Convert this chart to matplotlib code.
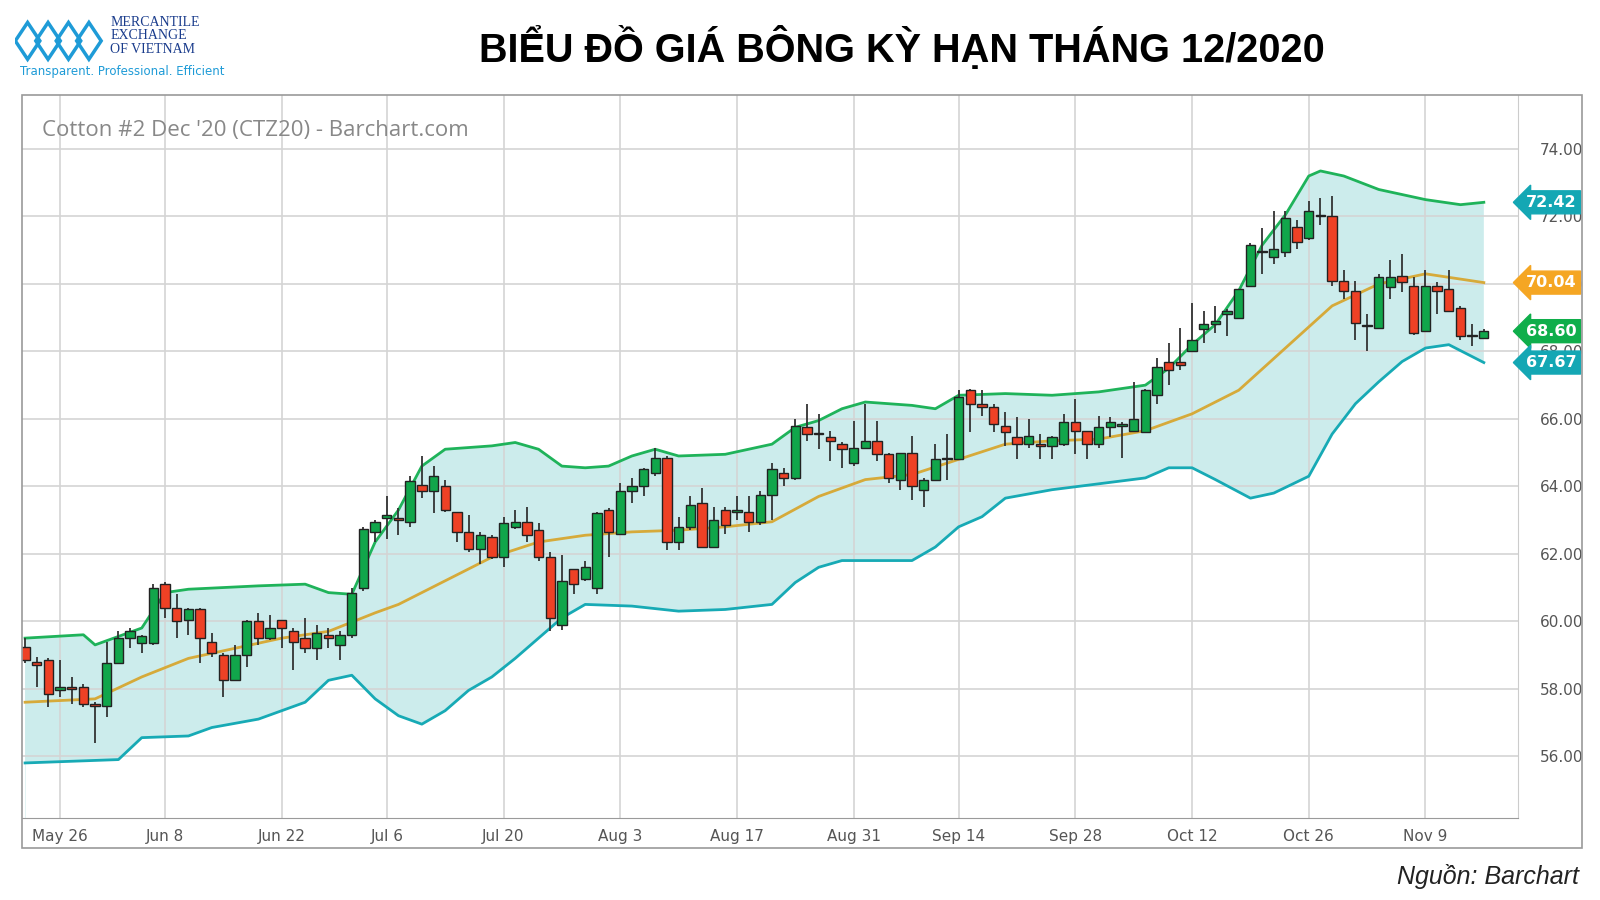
import matplotlib
matplotlib.use("Agg")
import matplotlib.pyplot as plt
import numpy as np
import pandas as pd
from matplotlib.patches import Rectangle, Polygon

opens = [59.25,58.8,58.85,57.95,58.05,58.05,57.55,57.5,58.75,59.5,59.35,59.35,61.1,60.4,60.05,60.35,59.4,59.0,58.25,59.0,
         60.0,59.5,60.05,59.7,59.5,59.2,59.6,59.3,59.6,61.0,62.65,63.05,63.05,62.95,64.05,63.85,64.0,63.25,62.65,62.15,
         62.5,61.9,62.8,62.95,62.7,61.9,59.9,61.55,61.25,61.0,63.3,62.6,63.85,64.0,64.4,64.85,62.35,62.8,63.5,62.2,
         63.3,63.25,63.25,62.95,63.75,64.4,64.25,65.75,65.55,65.45,65.25,64.7,65.15,65.35,64.95,64.2,65.0,63.9,64.2,64.8,
         64.8,66.85,66.45,66.35,65.8,65.45,65.25,65.25,65.2,65.25,65.9,65.65,65.25,65.75,65.8,65.65,65.6,66.7,67.7,67.7,
         68.0,68.65,68.8,69.1,69.0,69.95,70.95,70.8,70.95,71.7,71.35,72.0,72.0,70.1,69.8,68.75,68.7,69.9,70.25,69.95,
         68.6,69.95,69.85,69.3,68.45,68.4]
closes = [58.85,58.7,57.85,58.05,58.0,57.55,57.5,58.75,59.5,59.7,59.55,61.0,60.4,60.0,60.35,59.5,59.05,58.25,59.0,60.0,
          59.5,59.8,59.8,59.4,59.2,59.65,59.5,59.6,60.85,62.75,62.95,63.15,63.0,64.15,63.85,64.3,63.3,62.65,62.15,62.55,
          61.9,62.9,62.95,62.55,61.9,60.1,61.2,61.1,61.6,63.2,62.65,63.85,64.0,64.5,64.85,62.35,62.8,63.45,62.2,63.0,
          62.85,63.3,62.95,63.75,64.5,64.25,65.8,65.55,65.55,65.35,65.1,65.15,65.35,64.95,64.25,65.0,64.0,64.2,64.8,64.8,
          66.65,66.45,66.35,65.85,65.6,65.25,65.5,65.2,65.45,65.9,65.65,65.25,65.75,65.9,65.8,66.0,66.85,67.55,67.45,67.6,
          68.35,68.8,68.9,69.2,69.85,71.15,70.95,71.05,71.95,71.25,72.15,72.0,70.1,69.8,68.85,68.75,70.2,70.2,70.05,68.55,
          69.95,69.8,69.2,68.45,68.45,68.6]
highs = [59.5,58.95,58.9,58.85,58.35,58.15,57.6,59.4,59.7,59.8,59.6,61.1,61.15,60.8,60.4,60.4,59.65,59.05,59.3,60.05,
         60.25,60.2,60.05,59.8,60.1,59.9,59.8,59.7,61.0,62.8,63.0,63.7,63.35,64.3,64.9,64.6,64.2,63.25,63.15,62.65,
         62.55,63.1,63.3,63.4,62.9,62.05,61.95,61.55,61.8,63.25,63.35,64.1,64.25,64.55,65.15,64.9,63.1,63.7,63.95,63.4,
         63.4,63.7,63.7,63.85,64.7,64.55,66.0,66.45,66.15,65.65,65.3,65.95,66.45,65.95,65.0,65.0,65.5,64.25,65.25,65.55,
         66.85,66.9,66.85,66.45,66.2,66.05,66.0,65.55,65.5,66.15,66.6,65.65,66.1,66.05,65.9,67.1,66.9,67.8,68.25,68.7,
         69.45,69.2,69.35,69.25,69.85,71.2,71.65,72.15,72.15,71.9,72.45,72.55,72.6,70.4,70.1,69.1,70.3,70.7,70.9,70.2,
         70.4,70.05,70.4,69.35,68.8,68.65]
lows = [58.75,58.05,57.45,57.75,57.55,57.45,56.4,57.15,58.75,59.2,59.05,59.3,60.1,59.5,59.6,58.75,58.95,57.75,58.25,58.65,
        59.3,59.45,59.2,58.55,59.05,58.85,59.2,58.85,59.5,60.9,62.35,62.45,62.55,62.8,63.65,63.2,63.25,62.35,62.05,61.7,
        61.85,61.6,62.75,62.35,61.8,59.7,59.75,60.8,61.2,60.8,61.9,62.6,63.5,63.7,64.3,62.1,62.1,62.7,62.2,62.2,
        62.6,63.0,62.65,62.85,63.0,64.0,64.2,65.35,65.1,64.75,64.55,64.6,65.1,64.75,64.1,63.9,63.6,63.4,64.2,64.2,
        64.8,65.6,66.1,65.6,65.2,64.8,65.15,64.8,64.8,65.2,64.95,64.8,65.15,65.45,64.85,65.65,65.6,66.45,67.0,67.45,
        68.0,68.25,68.55,68.45,69.0,69.95,70.3,70.6,70.8,71.05,71.3,71.75,69.95,69.55,68.35,68.0,68.7,69.55,69.75,68.5,
        68.6,69.1,69.2,68.35,68.15,68.4]

upper_idx = [0,5,6,10,12,14,20,24,26,28,30,32,34,36,40,42,44,46,48,50,52,54,56,60,64,66,68,70,72,76,78,80,84,88,92,96,98,100,102,104,106,108,110,111,113,116,120,123,125]
upper_val = [59.5,59.6,59.3,59.8,60.85,60.95,61.05,61.1,60.85,60.8,62.35,63.3,64.6,65.1,65.2,65.3,65.1,64.6,64.55,64.6,64.9,65.1,64.9,64.95,65.25,65.75,65.95,66.3,66.5,66.4,66.3,66.7,66.75,66.7,66.8,67.0,67.5,68.2,68.8,69.8,71.15,72.05,73.2,73.35,73.2,72.8,72.5,72.35,72.42]
lower_idx = [0,4,8,10,14,16,20,24,26,28,30,32,34,36,38,40,42,44,46,48,52,56,60,64,66,68,70,76,78,80,82,84,88,96,98,100,102,105,107,110,112,114,116,118,120,122,125]
lower_val = [55.8,55.85,55.9,56.55,56.6,56.85,57.1,57.6,58.25,58.4,57.7,57.2,56.95,57.35,57.95,58.35,58.9,59.5,60.1,60.5,60.45,60.3,60.35,60.5,61.15,61.6,61.8,61.8,62.2,62.8,63.1,63.65,63.9,64.25,64.55,64.55,64.2,63.65,63.8,64.3,65.55,66.45,67.1,67.7,68.1,68.2,67.67]
mid_idx = [0,6,10,14,18,22,26,30,32,36,40,44,48,52,56,60,64,68,72,76,80,84,88,92,96,100,104,108,112,116,120,125]
mid_val = [57.6,57.7,58.35,58.9,59.2,59.5,59.7,60.25,60.5,61.2,61.9,62.35,62.55,62.65,62.7,62.8,62.95,63.7,64.2,64.35,64.8,65.25,65.35,65.4,65.65,66.15,66.85,68.1,69.35,70.0,70.3,70.04]

yticks = [56, 58, 60, 62, 64, 66, 68, 70, 72, 74]
xtick_dates = ["May 26", "Jun 8", "Jun 22", "Jul 6", "Jul 20", "Aug 3", "Aug 17", "Aug 31", "Sep 14", "Sep 28", "Oct 12", "Oct 26", "Nov 9"]

dates = pd.bdate_range("2020-05-20", "2020-11-20")
dates = [d for d in dates if d.strftime("%Y-%m-%d") not in ("2020-05-25", "2020-07-03", "2020-09-07")][:len(opens)]
labels_all = [d.strftime("%b ") + str(d.day) for d in dates]
xticks = [labels_all.index(s) for s in xtick_dates]

S = 1.022
W, H = 1600, 900
def fx(px): return px * S / W
def fy(py): return 1 - py * S / H

fig = plt.figure(figsize=(16, 9), dpi=100)
fig.patch.set_facecolor("white")
fig.patches.append(Rectangle((fx(22), fy(830)), fx(1548) - fx(22), fy(93) - fy(830), transform=fig.transFigure,
                             fill=False, edgecolor="#9a9a9a", lw=1.2))
ax = fig.add_axes([fx(22), fy(800), fx(1485) - fx(22), fy(93) - fy(800)])
ax.set_xlim(-0.22, 127.9)
ax.set_ylim(54.18, 75.6)

x = np.arange(len(opens))
ax.fill_between(upper_idx, upper_val, color="#ccecec", zorder=0, lw=0)
ax.fill_between(lower_idx, lower_val, 50, color="white", zorder=0.5, lw=0)
ax.plot(upper_idx, upper_val, color="#1fb35a", lw=2, zorder=2)
ax.plot(lower_idx, lower_val, color="#17aab5", lw=2, zorder=2)
ax.plot(mid_idx, mid_val, color="#d6aa3a", lw=2, zorder=2)

for i in range(len(opens)):
    o, c, h, l = opens[i], closes[i], highs[i], lows[i]
    col = "#11a64b" if c >= o else "#ee4125"
    ax.vlines(x[i], l, h, color="#333333", lw=1.3, zorder=3)
    bot, hgt = min(o, c), max(abs(c - o), 0.04)
    ax.add_patch(Rectangle((x[i]-0.4, bot), 0.8, hgt, facecolor=col, edgecolor="#222222", lw=1, zorder=4))

ax.set_yticks(yticks)
ax.set_yticklabels([f"{v:.2f}" for v in yticks])
ax.yaxis.tick_right()
ax.set_xticks(xticks)
ax.set_xticklabels(xtick_dates)
ax.tick_params(axis="both", length=0, labelsize=11, colors="#555555")
ax.tick_params(axis="y", pad=16)
ax.tick_params(axis="x", pad=8)
ax.grid(True, color="#d4d4d4", lw=1.2, zorder=-1)
ax.set_axisbelow(True)
for s in ["top", "left"]:
    ax.spines[s].set_visible(False)
ax.spines["bottom"].set_color("#9a9a9a")
ax.spines["right"].set_color("#cccccc")

ax.text(0.013, 0.965, "Cotton #2 Dec '20 (CTZ20) - Barchart.com", transform=ax.transAxes,
        fontsize=16, color="#888888", va="top", family="Open Sans")

for val, col in [(upper_val[-1], "#14a7b4"), (mid_val[-1], "#f5a623"), (closes[-1], "#0fae4b"), (lower_val[-1], "#14a7b4")]:
    ax.annotate(f"{val:.2f}", xy=(1.0, val), xycoords=("axes fraction", "data"), xytext=(6, 0),
                textcoords="offset points", va="center", ha="left", fontsize=11.5, fontweight="bold", color="white",
                bbox=dict(boxstyle="larrow,pad=0.25", fc=col, ec=col), annotation_clip=False, zorder=10)

fig.text(fx(882), fy(47), "BIỂU ĐỒ GIÁ BÔNG KỲ HẠN THÁNG 12/2020", ha="center", va="center",
         fontsize=28.5, fontweight="bold", family="Liberation Sans", color="black")
fig.text(fx(1545), fy(858), "Nguồn: Barchart", ha="right", va="center", fontsize=18,
         style="italic", family="Liberation Sans", color="#222222")

# logo
lax = fig.add_axes([fx(15), fy(62), fx(90), fy(17) - fy(62)])
lax.set_xlim(0, 90); lax.set_ylim(0, 45); lax.axis("off")
for k in range(4):
    cx = 12 + k * 20
    lax.add_patch(Polygon([[cx-12, 22], [cx, 40], [cx+12, 22], [cx, 4]], closed=True, fill=False,
                          edgecolor="#1e9bd7", lw=2.5))
for j, t in enumerate(["MERCANTILE", "EXCHANGE", "OF VIETNAM"]):
    fig.text(fx(108), fy(22 + 13 * j), t, fontsize=10, color="#1a3c8c", family="Liberation Serif", va="center")
fig.text(fx(20), fy(70), "Transparent. Professional. Efficient", fontsize=8.5, color="#1e9bd7", va="center")

fig.savefig("out.png", dpi=100)
